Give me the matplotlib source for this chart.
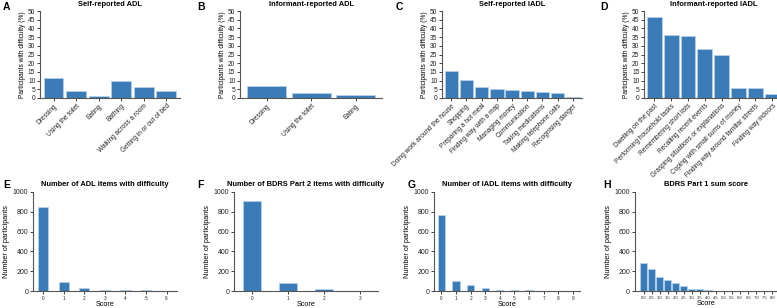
import matplotlib
matplotlib.use("Agg")
from matplotlib import pyplot as plt

plt.rcParams['font.family'] = ['Liberation Sans', 'DejaVu Sans']

# --- top row: % of participants with difficulty ---
adl_self_items = ["Dressing", "Using the toilet", "Eating", "Bathing",
                  "Walking across a room", "Getting in or out of bed"]
adl_self_pct = [11.5, 4.2, 1.3, 10.0, 6.3, 3.8]

adl_inf_items = ["Dressing", "Using the toilet", "Eating"]
adl_inf_pct = [6.8, 2.8, 1.7]

iadl_self_items = ["Doing work around the house", "Shopping", "Preparing a hot meal",
                   "Finding way with a map", "Managing money", "Communication",
                   "Taking medications", "Making telephone calls", "Recognising danger"]
iadl_self_pct = [15.5, 10.5, 6.2, 5.3, 4.6, 4.0, 3.2, 2.6, 0.8]

iadl_inf_items = ["Dwelling on the past", "Performing household tasks",
                  "Remembering short lists", "Recalling recent events",
                  "Grasping situations or explanations", "Coping with small sums of money",
                  "Finding way around familiar streets", "Finding way indoors"]
iadl_inf_pct = [46.5, 36.0, 35.8, 28.0, 24.5, 5.5, 5.5, 2.5]

# --- bottom row: score distributions (number of participants) ---
adl_scores = ["0", "1", "2", "3", "4", "5", "6"]
adl_counts = [848, 92, 35, 12, 12, 8, 1]

bdrs2_scores = ["0", "1", "2", "3"]
bdrs2_counts = [905, 78, 22, 5]

iadl_scores = ["0", "1", "2", "3", "4", "5", "6", "7", "8", "9"]
iadl_counts = [770, 105, 62, 33, 15, 10, 8, 5, 2, 1]

bdrs1_scores = ["0.0", "0.5", "1.0", "1.5", "2.0", "2.5", "3.0", "3.5", "4.0",
                "4.5", "5.0", "5.5", "6.0", "6.5", "7.0", "7.5", "8.0"]
bdrs1_counts = [280, 222, 140, 110, 80, 50, 25, 20, 15, 5, 4, 3, 2, 2, 1, 1, 1]

BAR = '#3b7bb7'
EDGE = '#b5d0ea'
SPINE = '#555555'

fig = plt.figure(figsize=(7.77, 3.08), dpi=100)


def style(ax):
    for s in ['top', 'right']:
        ax.spines[s].set_visible(False)
    for s in ['left', 'bottom']:
        ax.spines[s].set_color(SPINE)
        ax.spines[s].set_linewidth(0.8)
    ax.tick_params(colors='#222222', width=0.6, length=2.2, pad=1.2)


def top_panel(rect, items, pct, title, letter, lx):
    ax = fig.add_axes(rect)
    x = range(len(items))
    ax.bar(x, pct, width=0.88, color=BAR, edgecolor=EDGE, linewidth=0.6)
    ax.set_xlim(-0.6, len(items) - 0.4)
    ax.set_ylim(0, 50)
    ax.set_yticks(range(0, 51, 5))
    ax.set_xticks(list(x))
    ax.set_xticklabels(items, rotation=45, ha='right', rotation_mode='anchor', fontsize=4.7)
    ax.tick_params(axis='y', labelsize=4.8)
    ax.set_ylabel("Participants with difficulty (%)", fontsize=4.8, labelpad=1.5)
    ax.set_title(title, fontsize=5.4, fontweight='bold', pad=3.5)
    style(ax)
    fig.text(lx, 0.978, letter, fontsize=7.5, fontweight='bold', ha='left', va='center')
    return ax


def bottom_panel(rect, scores, counts, title, letter, lx, width=0.5, xlim=None, xfs=3.4):
    ax = fig.add_axes(rect)
    x = range(len(scores))
    ax.bar(x, counts, width=width, color=BAR, edgecolor=EDGE, linewidth=0.6)
    if xlim is None:
        xlim = (-0.5, len(scores) - 0.5)
    ax.set_xlim(*xlim)
    ax.set_ylim(0, 1000)
    ax.set_yticks(range(0, 1001, 200))
    ax.set_xticks(list(x))
    ax.set_xticklabels(scores, fontsize=xfs)
    ax.tick_params(axis='y', labelsize=5.0)
    ax.set_xlabel("Score", fontsize=5.2, labelpad=0.5)
    ax.set_ylabel("Number of participants", fontsize=5.2, labelpad=2)
    ax.set_title(title, fontsize=5.4, fontweight='bold', pad=4)
    style(ax)
    fig.text(lx, 0.400, letter, fontsize=7.5, fontweight='bold', ha='left', va='center')
    return ax


top_b, top_h = 0.682, 0.282
top_panel([0.0515, top_b, 0.180, top_h], adl_self_items, adl_self_pct,
          "Self-reported ADL", "A", 0.004)
top_panel([0.309, top_b, 0.183, top_h], adl_inf_items, adl_inf_pct,
          "Informant-reported ADL", "B", 0.254)
top_panel([0.569, top_b, 0.180, top_h], iadl_self_items, iadl_self_pct,
          "Self-reported IADL", "C", 0.509)
top_panel([0.829, top_b, 0.178, top_h], iadl_inf_items, iadl_inf_pct,
          "Informant-reported IADL", "D", 0.773)

bot_b, bot_h = 0.055, 0.322
bottom_panel([0.0425, bot_b, 0.185, bot_h], adl_scores, adl_counts,
             "Number of ADL items with difficulty", "E", 0.004)
bottom_panel([0.301, bot_b, 0.185, bot_h], bdrs2_scores, bdrs2_counts,
             "Number of BDRS Part 2 items with difficulty", "F", 0.254)
bottom_panel([0.5586, bot_b, 0.188, bot_h], iadl_scores, iadl_counts,
             "Number of IADL items with difficulty", "G", 0.524)
bottom_panel([0.817, bot_b, 0.183, bot_h], bdrs1_scores, bdrs1_counts,
             "BDRS Part 1 sum score", "H", 0.777, width=0.9,
             xlim=(-1.1, 16.6), xfs=3.0)

fig.savefig("out.png", dpi=100)
plt.close(fig)
